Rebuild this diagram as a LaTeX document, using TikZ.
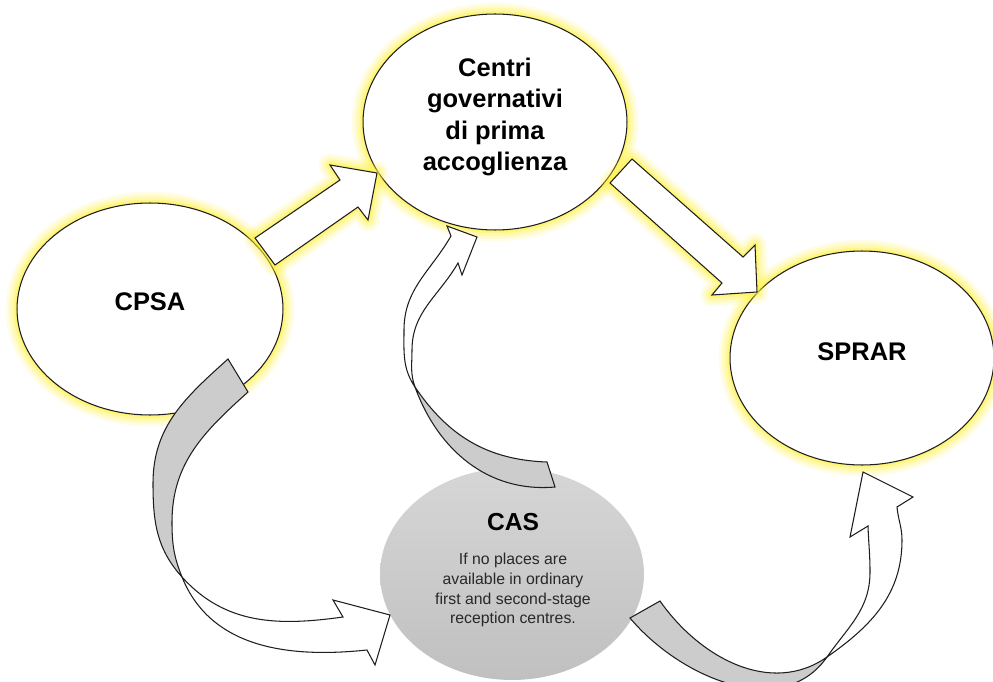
\documentclass[tikz,border=0pt]{standalone}
\usepackage{fontspec}
\setmainfont{Liberation Sans}
\usetikzlibrary{shapes.geometric}
\definecolor{glowc}{RGB}{255,240,60}
\definecolor{backgray}{RGB}{204,204,204}
\definecolor{edgec}{RGB}{30,30,30}
\definecolor{castop}{RGB}{214,214,214}
\definecolor{casbot}{RGB}{192,192,192}
\definecolor{smalltext}{RGB}{40,40,40}
\tikzset{
  glow/.style={draw=glowc, line join=round, fill=none},
  ellbox/.style={ellipse, draw=edgec, line width=0.6pt, fill=white, inner sep=0pt},
  casbox/.style={ellipse, draw=none, top color=castop, bottom color=casbot, inner sep=0pt},
  block/.style={draw=edgec, line width=0.6pt, fill=white, line join=miter},
  backband/.style={draw=edgec, line width=0.6pt, fill=backgray, line join=miter},
  big/.style={font=\bfseries\fontsize{14.5}{18}\selectfont, align=center, text=black},
  castitle/.style={font=\bfseries\fontsize{14}{17}\selectfont, align=center, text=black},
  small/.style={font=\fontsize{9}{11.3}\selectfont, align=center, text=smalltext},
}
\newcommand{\glowpath}[1]{%
  \foreach \w/\o in {13/0.12,10/0.16,7/0.22,4/0.3,2/0.35}{\draw[glow, line width=\w pt, opacity=\o] #1;}}
\begin{document}
\begin{tikzpicture}[x=0.02cm, y=0.02cm]
\useasboundingbox (0,0) rectangle (993,-682);
% glows of ellipses
\glowpath{(150,-309) ellipse [x radius=2.66cm, y radius=2.12cm]}
\glowpath{(495,-122) ellipse [x radius=2.64cm, y radius=2.16cm]}
\glowpath{(862,-358) ellipse [x radius=2.64cm, y radius=2.14cm]}
% ellipses
\node[ellbox, minimum width=5.32cm, minimum height=4.24cm] (cpsa) at (150,-309) {};
\node[ellbox, minimum width=5.28cm, minimum height=4.32cm] (centri) at (495,-122) {};
\node[ellbox, minimum width=5.28cm, minimum height=4.28cm] (sprar) at (862,-358) {};
\node[casbox, minimum width=5.28cm, minimum height=4.24cm] (cas) at (512,-574) {};
% glows of straight arrows
\glowpath{(255,-238) -- (340,-180) -- (330,-165) -- (377,-173) -- (368,-220) -- (358,-207) -- (275,-265) -- cycle}
\glowpath{(610,-183) -- (632,-159) -- (743,-257) -- (755,-245) -- (757,-292) -- (712,-295) -- (722,-283) -- cycle}
% straight block arrows
\path[block] (255,-238) -- (340,-180) -- (330,-165) -- (377,-173) -- (368,-220) -- (358,-207) -- (275,-265) -- cycle;
\path[block] (610,-183) -- (632,-159) -- (743,-257) -- (755,-245) -- (757,-292) -- (712,-295) -- (722,-283) -- cycle;
% curved arrow CPSA -> CAS
\coordinate (c1) at (182,-577);
\path[backband] (228,-359) to[out=-138, in=90] (153,-483) to[out=-90, in=132] (c1)
  to[out=112, in=-90] (172,-522) to[out=90, in=-138] (248,-392) -- cycle;
\path[block] (c1) to[out=-48, in=188] (343,-617) -- (333,-600) -- (390,-615) -- (375,-665) -- (367,-650)
  to[out=186, in=-68] (c1) -- cycle;
% curved arrow CAS -> Centri
\coordinate (c2) at (415,-387);
\path[backband] (c2) to[out=-56, in=178] (547,-462) -- (555,-487) to[out=185, in=-70] (c2) -- cycle;
\path[block] (451,-236) to[out=-120, in=90] (404,-330) to[out=-90, in=124] (c2)
  to[out=110, in=-90] (412,-350) to[out=90, in=-120] (458,-263) -- (462,-275) -- (477,-237) -- (447,-226) -- cycle;
% curved arrow CAS -> SPRAR
\coordinate (c3) at (827,-657);
\path[backband] (660,-601) to[out=-55, in=215] (c3) to[out=235, in=-50] (630,-618) -- cycle;
\path[block] (c3) to[out=35, in=-90] (902,-540) to[out=90, in=-85] (897,-507) -- (913,-497) -- (863,-472) -- (850,-537) -- (868,-526)
  to[out=-88, in=90] (870,-572) to[out=-90, in=55] (c3) -- cycle;
% texts
\node[big] (tcpsa) at (150,-302) {CPSA};
\node[big] (tcentri) at (495,-117) {Centri\\governativi\\di prima\\accoglienza};
\node[big] (tsprar) at (862,-352) {SPRAR};
\node[castitle] (tcas) at (513,-522) {CAS};
\node[small] (tcasd) at (513,-590) {If no places are\\available in ordinary\\first and second-stage\\reception centres.};
\end{tikzpicture}
\end{document}
